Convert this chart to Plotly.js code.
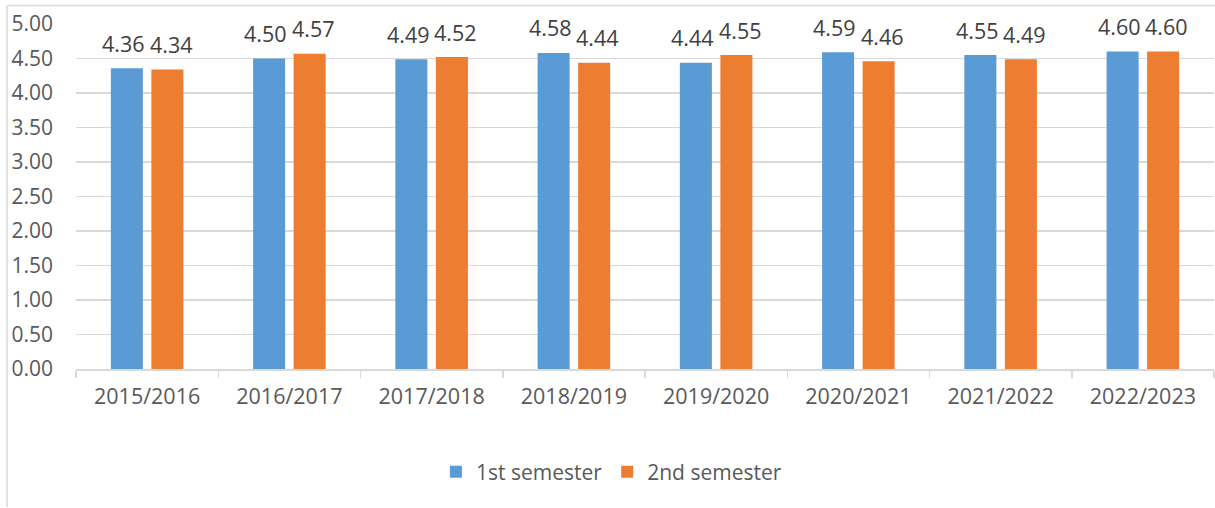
<!DOCTYPE html>
<html>
<head>
<meta charset="utf-8">
<script src="https://cdn.plot.ly/plotly-3.0.1.min.js"></script>
<style>html,body{margin:0;padding:0;background:#fff;}#chart{width:1215px;height:508px;}</style>
</head>
<body>
<div id="chart"></div>
<script>
const categories = ["2015/2016","2016/2017","2017/2018","2018/2019","2019/2020","2020/2021","2021/2022","2022/2023"];
const semester1 = [4.36, 4.50, 4.49, 4.58, 4.44, 4.59, 4.55, 4.60];
const semester2 = [4.34, 4.57, 4.52, 4.44, 4.55, 4.46, 4.49, 4.60];
const seriesNames = ["1st semester", "2nd semester"];

const FONT = "Open Sans, sans-serif";
const common = {
  type: "bar",
  x: categories,
  textposition: "none",
  hoverinfo: "skip"
};
const traces = [
  Object.assign({}, common, {y: semester1, name: seriesNames[0], marker: {color: "#5B9BD5"}}),
  Object.assign({}, common, {y: semester2, name: seriesNames[1], marker: {color: "#ED7D31"}})
];

// data labels built from the series arrays
const labelAnnotations = [];
[[semester1, -23.5], [semester2, 24]].forEach(([vals, dx]) => {
  vals.forEach((v, i) => {
    labelAnnotations.push({
      xref: "x", yref: "y", x: categories[i], y: v,
      text: v.toFixed(2), showarrow: false,
      xanchor: "center", yanchor: "middle", xshift: dx, yshift: 25,
      font: {family: FONT, size: 21.5, color: "#404040"}
    });
  });
});

const layout = {
  width: 1215, height: 508,
  margin: {l: 76, r: 1, t: 24, b: 138.5, pad: 0},
  paper_bgcolor: "#ffffff",
  plot_bgcolor: "#ffffff",
  barmode: "group",
  bargap: 0.43,
  bargroupgap: 0.21,
  font: {family: FONT, size: 21, color: "#595959"},
  xaxis: {
    showline: true, linecolor: "#d9d9d9", linewidth: 1.5,
    ticks: "outside", tickson: "boundaries", ticklen: 7, tickcolor: "#d9d9d9", tickwidth: 1.5,
    ticklabelstandoff: 8,
    tickfont: {family: FONT, size: 21.5, color: "#595959"},
    showgrid: false, fixedrange: true
  },
  yaxis: {
    range: [0, 5], dtick: 0.5, tickformat: ".2f",
    showgrid: true, gridcolor: "#d9d9d9", gridwidth: 1.3,
    zeroline: false, showline: false, ticks: "",
    ticklabelstandoff: 22,
    tickfont: {family: FONT, size: 21, color: "#595959"},
    fixedrange: true
  },
  showlegend: true,
  legend: {
    orientation: "h", x: 0.4705, xanchor: "center", y: -0.299, yanchor: "middle",
    font: {family: FONT, size: 21, color: "#595959"},
    traceorder: "normal"
  },
  annotations: labelAnnotations,
  shapes: [
    {type: "line", xref: "paper", yref: "paper", x0: -0.0606, x1: -0.0606, y0: 1.0535, y1: -0.4, line: {color: "#d9d9d9", width: 1.5}},
    {type: "line", xref: "paper", yref: "paper", x0: -0.0606, x1: 1.01, y0: 1.0535, y1: 1.0535, line: {color: "#d9d9d9", width: 1.5}}
  ]
};

Plotly.newPlot("chart", traces, layout, {displayModeBar: false, staticPlot: true});
</script>
</body>
</html>
